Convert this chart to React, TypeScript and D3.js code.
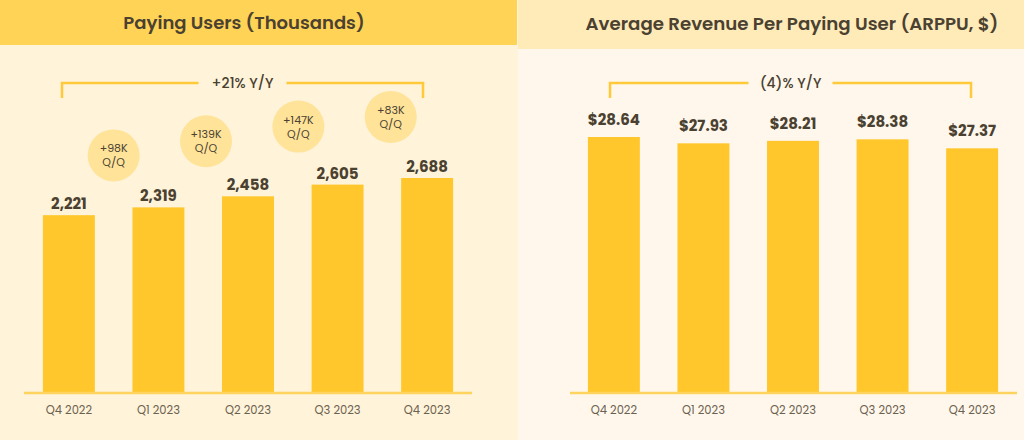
import React from "react";
import * as d3 from "d3";

const quarters = ["Q4 2022", "Q1 2023", "Q2 2023", "Q3 2023", "Q4 2023"];
const payingUsers = [2221, 2319, 2458, 2605, 2688];
const arppu = [28.64, 27.93, 28.21, 28.38, 27.37];
const qoqLabels = ["+98K", "+139K", "+147K", "+83K"];
const leftTitle = "Paying Users (Thousands)";
const rightTitle = "Average Revenue Per Paying User (ARPPU, $)";
const leftYoY = "+21% Y/Y";
const rightYoY = "(4)% Y/Y";

const W = 1024;
const H = 440;
const BASE = 392;
const FONT = "Poppins, 'Open Sans', 'DejaVu Sans', sans-serif";
const INK = "#4a4131";
const BAR = "#FFC72C";
const LINE = "#FFC93A";

const App: React.FC = () => {
  const xL = d3.scaleBand<string>().domain(quarters).range([25, 471]).paddingInner(0.42).paddingOuter(0.2);
  const yL = d3.scaleLinear().domain([0, 2688]).range([BASE, 178]);
  const xR = d3.scaleBand<string>().domain(quarters).range([570, 1016]).paddingInner(0.42).paddingOuter(0.2);
  const yR = d3.scaleLinear().domain([0, 28.64]).range([BASE, 137]);
  const fmt = d3.format(",");

  const bracket = (x0: number, x1: number, label: string, tw: number) => {
    const cx = (x0 + x1) / 2;
    const yb = 83;
    return (
      <g>
        <path
          d={`M${x0},98V${yb}H${cx - tw / 2}M${cx + tw / 2},${yb}H${x1}V98`}
          fill="none"
          stroke={LINE}
          strokeWidth={2.5}
        />
        <text x={cx} y={yb + 5} textAnchor="middle" fontSize={14} fontWeight={500} fill={INK}>
          {label}
        </text>
      </g>
    );
  };

  const bw = xL.bandwidth();

  return (
    <svg width={W} height={H} style={{ display: "block", position: "absolute", left: 0, top: 0 }} fontFamily={FONT}>
      {/* backgrounds */}
      <rect x={0} y={0} width={518} height={H} fill="#FFF3D9" />
      <rect x={518} y={0} width={W - 518} height={H} fill="#FFF7EB" />
      <rect x={0} y={0} width={517} height={45} fill="#FFD355" />
      <rect x={518} y={0} width={W - 518} height={49} fill="#FFEBB8" />
      <text x={244} y={29} textAnchor="middle" fontSize={18} fontWeight={600} fill={INK}>
        {leftTitle}
      </text>
      <text x={792} y={30} textAnchor="middle" fontSize={18.2} fontWeight={600} fill={INK}>
        {rightTitle}
      </text>

      {/* left chart */}
      {bracket(62, 423, leftYoY, 88)}
      {qoqLabels.map((q, i) => {
        const cx = ((xL(quarters[i]) as number) + (xL(quarters[i + 1]) as number)) / 2 + bw / 2 + i * 2.8;
        const cy = yL(payingUsers[i + 1]) - 52 - i * 3;
        return (
          <g key={q}>
            <circle cx={cx} cy={cy} r={26} fill="#FFE399" />
            <text x={cx} y={cy - 3} textAnchor="middle" fontSize={11} fill={INK}>
              {q}
            </text>
            <text x={cx} y={cy + 11} textAnchor="middle" fontSize={11} fill={INK}>
              Q/Q
            </text>
          </g>
        );
      })}
      {payingUsers.map((v, i) => (
        <g key={quarters[i]}>
          <rect x={xL(quarters[i])} y={yL(v)} width={bw} height={BASE - yL(v)} fill={BAR} />
          <text x={(xL(quarters[i]) as number) + bw / 2} y={yL(v) - 6} textAnchor="middle" fontSize={15} fontWeight={700} fill={INK}>
            {fmt(v)}
          </text>
          <text x={(xL(quarters[i]) as number) + bw / 2} y={414} textAnchor="middle" fontSize={11.5} fill="#6b6150">
            {quarters[i]}
          </text>
        </g>
      ))}
      <line x1={24} x2={472} y1={BASE + 1} y2={BASE + 1} stroke="#FFD45E" strokeWidth={2.5} />

      {/* right chart */}
      {bracket(610, 971, rightYoY, 84)}
      {arppu.map((v, i) => (
        <g key={quarters[i]}>
          <rect x={xR(quarters[i])} y={yR(v)} width={xR.bandwidth()} height={BASE - yR(v)} fill={BAR} />
          <text x={(xR(quarters[i]) as number) + xR.bandwidth() / 2} y={yR(v) - 12} textAnchor="middle" fontSize={15} fontWeight={700} fill={INK}>
            {"$" + v.toFixed(2)}
          </text>
          <text x={(xR(quarters[i]) as number) + xR.bandwidth() / 2} y={414} textAnchor="middle" fontSize={11.5} fill="#6b6150">
            {quarters[i]}
          </text>
        </g>
      ))}
      <line x1={570} x2={1017} y1={BASE + 1} y2={BASE + 1} stroke="#FFD45E" strokeWidth={2.5} />
    </svg>
  );
};

export default App;
